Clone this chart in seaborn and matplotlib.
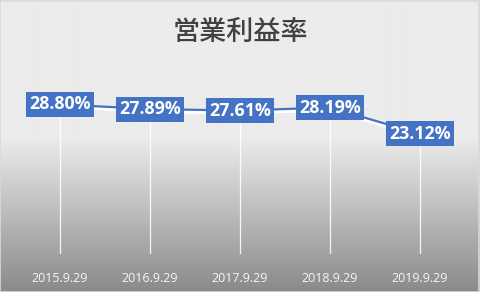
import numpy as np
import pandas as pd
import matplotlib
matplotlib.use("Agg")
import matplotlib.pyplot as plt
import seaborn as sns
from matplotlib import patheffects as pe
from matplotlib.patches import Rectangle

title = "営業利益率"
dates = ["2015.9.29", "2016.9.29", "2017.9.29", "2018.9.29", "2019.9.29"]
margin = [28.80, 27.89, 27.61, 28.19, 23.12]

df = pd.DataFrame({"pos": np.arange(len(dates)), "date": dates, "margin": margin})

BLUE = "#4472C4"

fig = plt.figure(figsize=(4.8, 2.92), dpi=100)

# background gradient
H = 292
top = np.array([236, 236, 236]) / 255
bot = np.array([138, 138, 138]) / 255
rows = []
for i in range(H):
    f = i / (H - 1)
    if f < 0.47:
        c = top
    else:
        t = (f - 0.47) / 0.53
        c = top + (bot - top) * t
    rows.append(c)
grad = np.array(rows).reshape(H, 1, 3)
bg = fig.add_axes([0, 0, 1, 1], zorder=0)
bg.imshow(grad, aspect="auto", extent=[0, 1, 0, 1], interpolation="bilinear")
bg.set_axis_off()

ax = fig.add_axes([0.03125, 0.13, 0.9375, 0.623], zorder=1)
ax.patch.set_alpha(0)

# drop lines
ax.vlines(df["pos"], 0, df["margin"], color="white", lw=0.9, alpha=0.9, zorder=1)

sns.lineplot(data=df, x="pos", y="margin", ax=ax, color=BLUE, lw=1.6, zorder=3,
             path_effects=[pe.SimpleLineShadow(offset=(0.5, -1.8), shadow_color="white", alpha=1.0, linewidth=2.2),
                           pe.Normal()])

for x, v in zip(df["pos"], df["margin"]):
    ax.text(x, v, f"{v:.2f}%", ha="center", va="center", color="white",
            fontsize=12.8, fontweight="bold", family=["Open Sans", "DejaVu Sans"], zorder=5,
            bbox=dict(boxstyle="square,pad=0.2", fc=BLUE, ec="none"))

ax.set_xlim(-0.5, len(dates) - 0.5)
ax.set_ylim(0, 35)
ax.set_xticks(df["pos"])
ax.set_xticklabels(dates, family=["Open Sans", "DejaVu Sans"], fontsize=9, color="#f6f6f6")
ax.tick_params(axis="x", length=0, pad=13)
ax.set_yticks([])
ax.set_xlabel("")
ax.set_ylabel("")
for s in ax.spines.values():
    s.set_visible(False)

fig.text(0.5, 1 - 32 / 292, title, ha="center", va="center", fontsize=19.5, fontweight="medium",
         color="#404040", family=["Noto Sans CJK JP", "DejaVu Sans"])

fig.patches.append(Rectangle((0.001, 0.0017), 0.997, 0.996, transform=fig.transFigure,
                             fill=False, ec="#d9d9d9", lw=1.2, zorder=10))

fig.savefig("out.png", dpi=100)
